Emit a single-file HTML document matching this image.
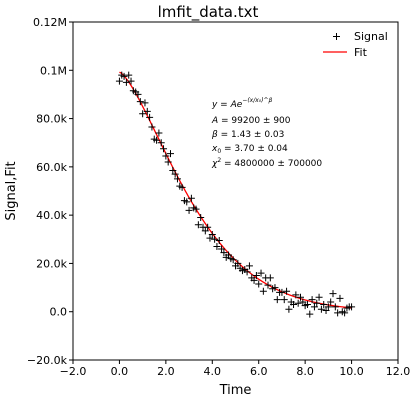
<!DOCTYPE html>
<html><head><meta charset="utf-8"><style>
body{margin:0;background:#fff;font-family:"Liberation Sans","DejaVu Sans",sans-serif}
svg text{font-family:"DejaVu Sans","Liberation Sans",sans-serif}
</style></head><body>
<svg id="c" width="416" height="400"></svg>
<script>
const xTicks=[-2,0,2,4,6,8,10,12];
const xTickLabels=["−2.0","0.0","2.0","4.0","6.0","8.0","10.0","12.0"];
const yTicks=[-20000,0,20000,40000,60000,80000,100000,120000];
const yTickLabels=["−20.0k","0.0","20.0k","40.0k","60.0k","80.0k","0.1M","0.12M"];
const signalX=[];for(let i=0;i<=100;i++)signalX.push(i/10);
const signalY=[95500,98000,97500,95000,98000,95500,91500,91000,90000,87000,82000,86500,83000,80500,76500,71500,71000,74000,70000,67500,64500,62000,65500,58500,57000,55000,52000,51500,46000,45500,42000,47000,43000,42500,36000,39000,35000,33500,35000,30500,32000,30000,27000,29500,26000,24500,22500,23500,22000,21500,19000,20000,18000,17000,17500,16500,19000,14000,13000,15000,11500,16000,8500,14000,11000,14000,9500,10000,5000,8000,8000,5000,8500,1000,4000,3000,7000,3500,6000,4000,2500,3000,-1000,5000,2000,3500,6000,1000,3000,500,2000,4000,7500,2000,-500,5500,0,-500,1500,2000,2000];
const fitA=[99200];const fitBeta=[1.43];const fitX0=[3.70];
const L=73,R=398,T=22,B=360;
const sx=v=>L+(v+2)/14*(R-L), sy=v=>B-(v+20000)/140000*(B-T);
const svg=document.getElementById('c');const NS='http://www.w3.org/2000/svg';
function el(t,a,p){const e=document.createElementNS(NS,t);for(const k in a)e.setAttribute(k,a[k]);(p||svg).appendChild(e);return e;}
const t=el('text',{x:208,y:17,'text-anchor':'middle','font-size':15});t.textContent='lmfit_data.txt';


// fit line
let d='';for(let i=0;i<=200;i++){const x=i/20;const y=fitA[0]*Math.exp(-Math.pow(x/fitX0[0],fitBeta[0]));d+=(i?'L':'M')+sx(x).toFixed(2)+','+sy(y).toFixed(2);}
const fl=el('path',{d:d,fill:'none',stroke:'red','stroke-width':1.3});


const g=el('g',{stroke:'#000','stroke-width':1});


signalX.forEach((x,i)=>{const px=sx(x),py=sy(signalY[i]);const p=el('path',{d:`M${px-3.5},${py}H${px+3.5}M${px},${py-3.5}V${py+3.5}`},g);

});
const fr=el('rect',{x:L,y:T,width:R-L,height:B-T,fill:'none',stroke:'#000','stroke-width':1});


xTicks.forEach((v,i)=>{const x=sx(v);el('line',{x1:x,x2:x,y1:B,y2:B+4,stroke:'#000'});const tx=el('text',{x:x,y:B+15,'text-anchor':'middle','font-size':11});tx.textContent=xTickLabels[i];

});
yTicks.forEach((v,i)=>{const y=sy(v);el('line',{x1:L-4,x2:L,y1:y,y2:y,stroke:'#000'});const tx=el('text',{x:L-6,y:y+4,'text-anchor':'end','font-size':11});tx.textContent=yTickLabels[i];

});
const xl=el('text',{x:(L+R)/2,y:394,'text-anchor':'middle','font-size':13});xl.textContent='Time';


const yl=el('text',{x:15,y:(T+B)/2,'text-anchor':'middle','font-size':13,transform:`rotate(-90 15 ${(T+B)/2})`});yl.textContent='Signal,Fit';


// legend
const lg=el('g',{});


el('path',{d:'M333,36.5h7M336.5,33v7',stroke:'#000'},lg);
const l1=el('text',{x:354,y:40,'font-size':11},lg);l1.textContent='Signal';


el('line',{x1:323,x2:347,y1:52,y2:52,stroke:'red','stroke-width':1.3},lg);
const l2=el('text',{x:354,y:56,'font-size':11},lg);l2.textContent='Fit';


// annotation
const ann=el('g',{'font-size':9});


ann.innerHTML='<text x="212" y="107" font-style="italic">y = Ae<tspan font-size="6" dy="-5">−(x/x₀)^β</tspan></text>'+
'<text x="212" y="123"><tspan font-style="italic">A</tspan> = 99200 ± 900</text>'+
'<text x="212" y="137"><tspan font-style="italic">β</tspan> = 1.43 ± 0.03</text>'+
'<text x="212" y="151"><tspan font-style="italic">x</tspan><tspan font-size="6" dy="2">0</tspan><tspan dy="-2"> = 3.70 ± 0.04</tspan></text>'+
'<text x="212" y="166"><tspan font-style="italic">χ</tspan><tspan font-size="6" dy="-4">2</tspan><tspan dy="4"> = 4800000 ± 700000</tspan></text>';
</script>
</body></html>
